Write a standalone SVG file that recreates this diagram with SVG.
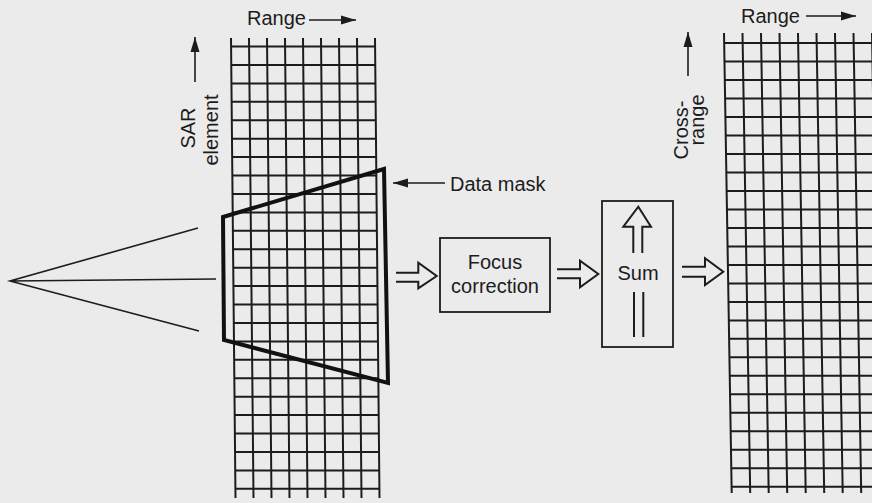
<svg xmlns="http://www.w3.org/2000/svg" width="872" height="503" viewBox="0 0 872 503">
<style>
.grid{fill:none;stroke:#1c1c1c;stroke-width:2}
.thin{fill:none;stroke:#1c1c1c;stroke-width:1.6}
.box{fill:none;stroke:#1c1c1c;stroke-width:1.8}
.mask{fill:none;stroke:#111;stroke-width:4;stroke-linejoin:miter}
.hollow{fill:none;stroke:#1c1c1c;stroke-width:2;stroke-linejoin:miter}
text{font-family:"Liberation Sans",Arial,sans-serif;font-size:20px;fill:#1c1c1c}
.mid{text-anchor:middle}
</style>
<defs>
<marker id="ah" markerUnits="userSpaceOnUse" markerWidth="16" markerHeight="10" refX="15" refY="5" orient="auto">
<path d="M0,0.5 L15,5 L0,9.5 z" fill="#1c1c1c"/>
</marker>
</defs>
<rect width="872" height="503" fill="#ebebeb"/>

<g id="grid-left">
<path class="grid" d="M231,38 L235.5,498 M249,38 L253.5,498 M267,38 L271.5,498 M285,38 L289.5,498 M303,38 L307.5,498 M321,38 L325.5,498 M339,38 L343.5,498 M357,38 L361.5,498 M375,38 L379.5,498"/>
<path class="grid" d="M231.1,46.5h144 M231.3,64.9h144 M231.4,83.4h144 M231.6,101.8h144 M231.8,120.2h144 M232,138.7h144 M232.2,157.1h144 M232.3,175.5h144 M232.5,193.9h144 M232.7,212.4h144 M232.9,230.8h144 M233.1,249.2h144 M233.2,267.7h144 M233.4,286.1h144 M233.6,304.5h144 M233.8,323h144 M234,341.4h144 M234.1,359.8h144 M234.3,378.2h144 M234.5,396.7h144 M234.7,415.1h144 M234.9,433.5h144 M235,452h144 M235.2,470.4h144 M235.4,488.8h144"/>
</g>

<g id="grid-right">
<path class="grid" d="M724,33 L731.7,493 M742.5,33 L750.2,493 M761,33 L768.7,493 M779.5,33 L787.2,493 M798,33 L805.7,493 M816.5,33 L824.2,493 M835,33 L842.7,493 M853.5,33 L861.2,493 M872,33 L879.7,493"/>
<path class="grid" d="M724.2,43H872 M724.5,61.5H872 M724.8,80H872 M725.1,98.5H872 M725.4,117H872 M725.7,135.5H872 M726,153.9H872 M726.3,172.4H872 M726.6,190.9H872 M727,209.4H872 M727.3,227.9H872 M727.6,246.4H872 M727.9,264.9H872 M728.2,283.4H872 M728.5,301.9H872 M728.8,320.4H872 M729.1,338.8H872 M729.4,357.3H872 M729.7,375.8H872 M730,394.3H872 M730.4,412.8H872 M730.7,431.3H872 M731,449.8H872 M731.3,468.3H872 M731.6,486.8H872"/>
</g>

<g id="fan">
<path class="thin" d="M198,228 L10,281 L199,331 M10,281 L216,279"/>
</g>

<g id="data-mask">
<polygon class="mask" points="223,217 384,169 388,383 224,340"/>
</g>

<g id="labels">
<text x="247" y="25">Range</text>
<line class="thin" x1="309" y1="20" x2="356" y2="20" marker-end="url(#ah)"/>
<text x="741" y="23">Range</text>
<line class="thin" x1="806" y1="16" x2="856" y2="16" marker-end="url(#ah)"/>
<line class="thin" x1="195" y1="82" x2="195" y2="37" marker-end="url(#ah)"/>
<text class="mid" transform="translate(195,128) rotate(-90)">SAR</text>
<text class="mid" transform="translate(218,130) rotate(-90)">element</text>
<line class="thin" x1="688" y1="76" x2="688" y2="32" marker-end="url(#ah)"/>
<text class="mid" transform="translate(688,130) rotate(-90)">Cross-</text>
<text class="mid" transform="translate(704,120) rotate(-90)">range</text>
<line class="thin" x1="445" y1="183" x2="393" y2="183" marker-end="url(#ah)"/>
<text x="450" y="191">Data mask</text>
</g>

<g id="focus-correction">
<rect class="box" x="440" y="238" width="110" height="74"/>
<text class="mid" x="495" y="269">Focus</text>
<text class="mid" x="495" y="293">correction</text>
</g>

<g id="sum">
<rect class="box" x="602" y="201" width="71" height="146"/>
<path class="hollow" d="M633.3,253 V226.7 H623.3 L638.3,206.7 L651,226.7 H642.3 V253"/>
<text class="mid" x="638" y="280">Sum</text>
<path class="hollow" d="M634,292 V337 M643.3,292 V337"/>
</g>

<g id="connectors">
<path class="hollow" d="M396,272.7 H418.3 V262.7 L436.7,276 L418.3,288.3 V281.7 H396"/>
<path class="hollow" d="M557,269.3 H580 V260.7 L598.3,274 L580,287.3 V278.3 H557"/>
<path class="hollow" d="M682,266.7 H705 V258.3 L723.3,271.7 L705,285 V276.7 H682"/>
</g>
</svg>
